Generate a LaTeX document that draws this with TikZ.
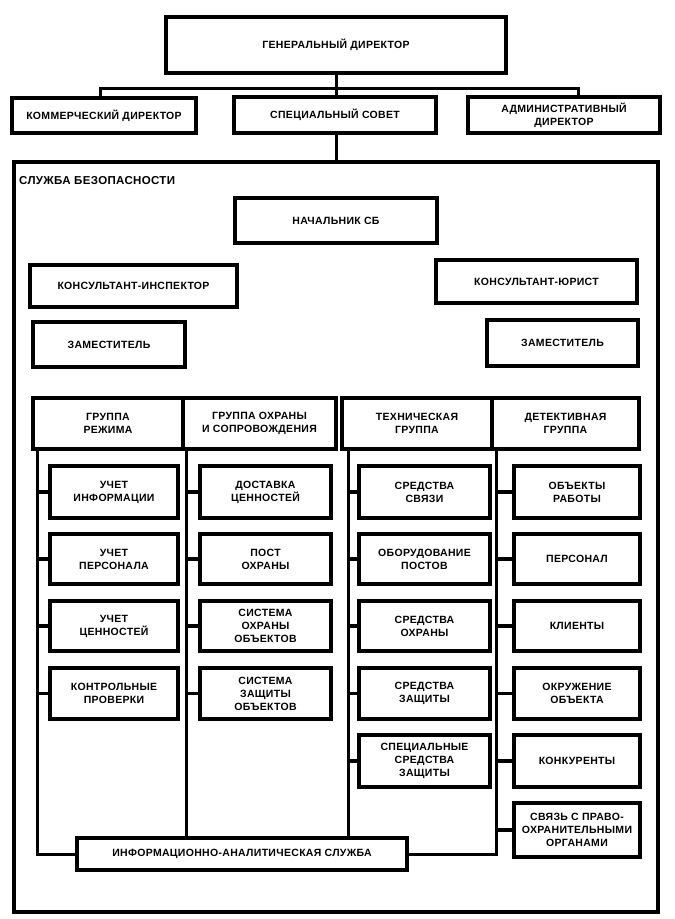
\documentclass[tikz,border=0pt]{standalone}
\usepackage{fontspec}
\setmainfont{Liberation Sans}[LetterSpace=3]
\newcommand\mkbox[6]{\node[box, minimum width={(#4-#2)*1pt}, minimum height={(#5-#3)*1pt}] (#1) at ({(#2+#4)/2},{(#3+#5)/2}) {#6};}
\begin{document}
\begin{tikzpicture}[x=1pt,y=-1pt,
  box/.style={draw, line width=3.4pt, inner sep=1pt, outer sep=0pt, align=center,
    font=\bfseries\fontsize{10.5}{13}\selectfont},
  ln/.style={line width=3pt},
  stub/.style={line width=3.6pt}]
\useasboundingbox (0,0) rectangle (675,919);
% top level
\mkbox{gd}{166}{17}{506}{73}{ГЕНЕРАЛЬНЫЙ ДИРЕКТОР}
\mkbox{kd}{12}{98}{196}{133}{КОММЕРЧЕСКИЙ ДИРЕКТОР}
\mkbox{ss}{234}{97}{436}{133}{СПЕЦИАЛЬНЫЙ СОВЕТ}
\mkbox{ad}{468}{97}{660}{133}{АДМИНИСТРАТИВНЫЙ\\ДИРЕКТОР}
\coordinate (bar) at (337,88);
\draw[ln] (gd.south) -- (gd.south |- bar);
\draw[ln] ([xshift=-4pt]kd.north) -- ([xshift=-4pt]kd.north |- bar) -- ([xshift=14pt]ad.north |- bar) -- ([xshift=14pt]ad.north);
\draw[ln] (gd.south |- bar) -- (gd.south |- ss.north);
% security service frame
\node[draw, line width=3.2pt, minimum width=644pt, minimum height=750pt, inner sep=0pt] (sb) at (336,537) {};
\draw[ln] (gd.south |- ss.south) -- (gd.south |- sb.north);
\node[anchor=west, inner sep=0pt, font=\bfseries\fontsize{11.5}{13}\selectfont] (sbl) at (19,181) {СЛУЖБА БЕЗОПАСНОСТИ};
\mkbox{nach}{235}{198}{437}{243}{НАЧАЛЬНИК СБ}
\mkbox{ki}{30}{265}{237}{307}{КОНСУЛЬТАНТ-ИНСПЕКТОР}
\mkbox{ku}{436}{260}{637}{303}{КОНСУЛЬТАНТ-ЮРИСТ}
\mkbox{z1}{33}{322}{185}{367}{ЗАМЕСТИТЕЛЬ}
\mkbox{z2}{487}{320}{638}{366}{ЗАМЕСТИТЕЛЬ}
% group headers
\mkbox{h1}{33}{398}{183}{449}{ГРУППА\\РЕЖИМА}
\mkbox{h2}{183}{398}{336}{449}{ГРУППА ОХРАНЫ\\И СОПРОВОЖДЕНИЯ}
\mkbox{h3}{342}{398}{492}{449}{ТЕХНИЧЕСКАЯ\\ГРУППА}
\mkbox{h4}{492}{398}{639}{449}{ДЕТЕКТИВНАЯ\\ГРУППА}
% column 1
\mkbox{a1}{50}{466}{178}{518}{УЧЕТ\\ИНФОРМАЦИИ}
\mkbox{a2}{50}{534}{178}{584}{УЧЕТ\\ПЕРСОНАЛА}
\mkbox{a3}{50}{601}{178}{651}{УЧЕТ\\ЦЕННОСТЕЙ}
\mkbox{a4}{50}{668}{178}{719}{КОНТРОЛЬНЫЕ\\ПРОВЕРКИ}
% column 2
\mkbox{b1}{200}{466}{331}{518}{ДОСТАВКА\\ЦЕННОСТЕЙ}
\mkbox{b2}{200}{534}{331}{584}{ПОСТ\\ОХРАНЫ}
\mkbox{b3}{200}{601}{331}{651}{СИСТЕМА\\ОХРАНЫ\\ОБЪЕКТОВ}
\mkbox{b4}{200}{668}{331}{719}{СИСТЕМА\\ЗАЩИТЫ\\ОБЪЕКТОВ}
% column 3
\mkbox{c1}{359}{466}{490}{518}{СРЕДСТВА\\СВЯЗИ}
\mkbox{c2}{359}{534}{490}{584}{ОБОРУДОВАНИЕ\\ПОСТОВ}
\mkbox{c3}{359}{601}{490}{651}{СРЕДСТВА\\ОХРАНЫ}
\mkbox{c4}{359}{668}{490}{719}{СРЕДСТВА\\ЗАЩИТЫ}
\mkbox{c5}{359}{735}{490}{787}{СПЕЦИАЛЬНЫЕ\\СРЕДСТВА\\ЗАЩИТЫ}
% column 4
\mkbox{d1}{514}{466}{640}{518}{ОБЪЕКТЫ\\РАБОТЫ}
\mkbox{d2}{514}{534}{640}{584}{ПЕРСОНАЛ}
\mkbox{d3}{514}{601}{640}{651}{КЛИЕНТЫ}
\mkbox{d4}{514}{668}{640}{719}{ОКРУЖЕНИЕ\\ОБЪЕКТА}
\mkbox{d5}{514}{735}{640}{787}{КОНКУРЕНТЫ}
\mkbox{d6}{514}{803}{640}{857}{СВЯЗЬ С ПРАВО-\\ОХРАНИТЕЛЬНЫМИ\\ОРГАНАМИ}
% information-analytic service
\mkbox{ias}{77}{838}{407}{870}{ИНФОРМАЦИОННО-АНАЛИТИЧЕСКАЯ СЛУЖБА}
% spines
\coordinate (s1) at ([xshift=4pt]h1.south west);
\coordinate (s2) at ([xshift=3pt]h2.south west);
\coordinate (s3) at ([xshift=6pt]h3.south west);
\coordinate (s4) at ([xshift=4pt]h4.south west);
\draw[ln] (s1) |- (ias.west);
\draw[ln] (s2) -- (s2 |- ias.north);
\draw[ln] (s3) -- (s3 |- ias.north);
\draw[ln] (s4) |- (ias.east);
% stubs
\foreach \n in {a1,a2,a3,a4} \draw[stub] (\n.west) -- (\n.west -| s1);
\foreach \n in {b1,b2,b3,b4} \draw[stub] (\n.west) -- (\n.west -| s2);
\foreach \n in {c1,c2,c3,c4,c5} \draw[stub] (\n.west) -- (\n.west -| s3);
\foreach \n in {d1,d2,d3,d4,d5,d6} \draw[stub] (\n.west) -- (\n.west -| s4);
\end{tikzpicture}
\end{document}
